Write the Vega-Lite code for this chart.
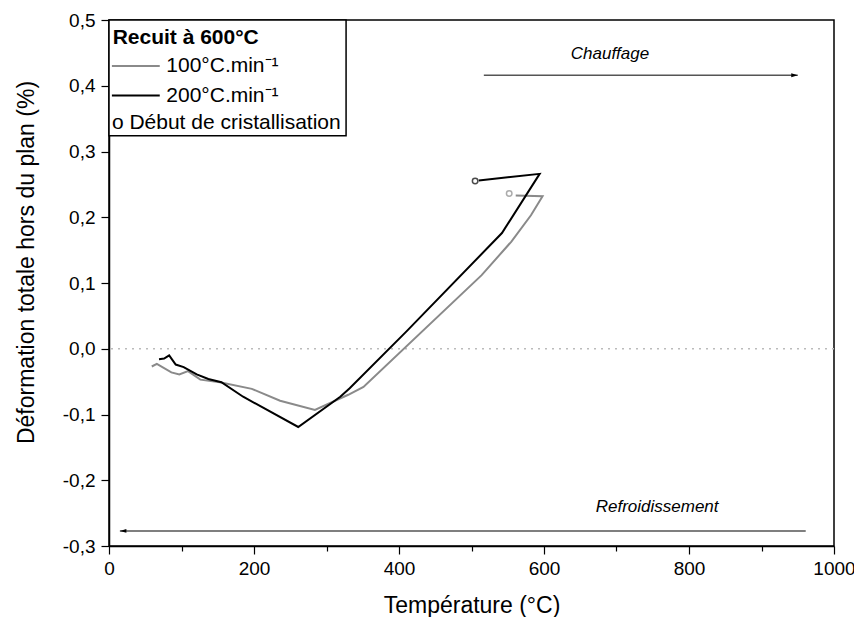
{
  "$schema": "https://vega.github.io/schema/vega-lite/v6.json",
  "width": 725,
  "height": 526,
  "autosize": "none",
  "padding": {"left": 109, "top": 20, "right": 20, "bottom": 71},
  "config": {
    "font": "Liberation Sans",
    "view": {"stroke": "#000000", "strokeWidth": 1.5},
    "axis": {"grid": false, "labelFlush": false, "labelOverlap": false, "domainColor": "#000000", "domainWidth": 1.5, "tickColor": "#000000", "tickWidth": 1.2, "labelColor": "#000000", "titleColor": "#000000", "labelFontSize": 19, "titleFontSize": 23, "titleFontWeight": "normal", "labelFont": "Liberation Sans", "titleFont": "Liberation Sans"}
  },
  "datasets": {
    "curves": [
      {"s": "100", "i": 1, "T": 59, "d": -0.027},
      {"s": "100", "i": 2, "T": 66, "d": -0.023},
      {"s": "100", "i": 3, "T": 86, "d": -0.036},
      {"s": "100", "i": 4, "T": 97, "d": -0.039},
      {"s": "100", "i": 5, "T": 109, "d": -0.034},
      {"s": "100", "i": 6, "T": 126, "d": -0.047},
      {"s": "100", "i": 7, "T": 153, "d": -0.051},
      {"s": "100", "i": 8, "T": 197, "d": -0.061},
      {"s": "100", "i": 9, "T": 236, "d": -0.079},
      {"s": "100", "i": 10, "T": 284, "d": -0.093},
      {"s": "100", "i": 11, "T": 330, "d": -0.070},
      {"s": "100", "i": 12, "T": 351, "d": -0.058},
      {"s": "100", "i": 13, "T": 514, "d": 0.112},
      {"s": "100", "i": 14, "T": 555, "d": 0.163},
      {"s": "100", "i": 15, "T": 582, "d": 0.203},
      {"s": "100", "i": 16, "T": 598, "d": 0.232},
      {"s": "100", "i": 17, "T": 561, "d": 0.233},
      {"s": "200", "i": 1, "T": 69, "d": -0.016},
      {"s": "200", "i": 2, "T": 76, "d": -0.015},
      {"s": "200", "i": 3, "T": 83, "d": -0.010},
      {"s": "200", "i": 4, "T": 92, "d": -0.024},
      {"s": "200", "i": 5, "T": 103, "d": -0.028},
      {"s": "200", "i": 6, "T": 121, "d": -0.039},
      {"s": "200", "i": 7, "T": 137, "d": -0.046},
      {"s": "200", "i": 8, "T": 155, "d": -0.051},
      {"s": "200", "i": 9, "T": 185, "d": -0.073},
      {"s": "200", "i": 10, "T": 261, "d": -0.119},
      {"s": "200", "i": 11, "T": 319, "d": -0.073},
      {"s": "200", "i": 12, "T": 332, "d": -0.060},
      {"s": "200", "i": 13, "T": 410, "d": 0.026},
      {"s": "200", "i": 14, "T": 542, "d": 0.176},
      {"s": "200", "i": 15, "T": 594, "d": 0.266},
      {"s": "200", "i": 16, "T": 510, "d": 0.256}
    ],
    "onset": [
      {"s": "100", "T": 552, "d": 0.236},
      {"s": "200", "T": 505, "d": 0.255}
    ],
    "arrows": [
      {"label": "Chauffage", "x1": 517, "x2": 950, "y": 0.416, "tip": 950, "shape": "M -1 -0.3 L 0 0 L -1 0.3 Z", "tx": 691, "ty": 0.449},
      {"label": "Refroidissement", "x1": 15, "x2": 961, "y": -0.277, "tip": 15, "shape": "M 1 -0.3 L 0 0 L 1 0.3 Z", "tx": 756, "ty": -0.240}
    ],
    "legendLines": [
      {"s": "100", "x1": 4, "x2": 70, "y": 0.430},
      {"s": "200", "x1": 4, "x2": 70, "y": 0.385}
    ],
    "legendTitle": [
      {"t": "Recuit à 600°C", "x": 5, "y": 0.472}
    ],
    "legendTexts": [
      {"t": "100°C.min⁻¹", "x": 79, "y": 0.430},
      {"t": "200°C.min⁻¹", "x": 79, "y": 0.385},
      {"t": "o Début de cristallisation", "x": 4, "y": 0.344}
    ],
    "legendBox": [{"x1": 0, "x2": 327, "y1": 0.5, "y2": 0.324}],
    "zero": [{"y": 0}]
  },
  "layer": [
    {
      "data": {"name": "zero"},
      "mark": {"type": "rule", "color": "#bbbbbb", "strokeDash": [2, 5], "strokeWidth": 1.5},
      "encoding": {
        "y": {"field": "y", "type": "quantitative", "scale": {"domain": [-0.3, 0.5], "nice": false, "zero": false},
          "axis": {
            "title": "Déformation totale hors du plan (%)",
            "values": [-0.3, -0.25, -0.2, -0.15, -0.1, -0.05, 0, 0.05, 0.1, 0.15, 0.2, 0.25, 0.3, 0.35, 0.4, 0.45, 0.5],
            "labelExpr": "abs(datum.value*10 - round(datum.value*10)) < 0.001 ? replace(replace(format(datum.value, '.1f'), '.', ','), '−', '-') : ''",
            "tickSize": {"condition": {"test": "abs(datum.value*10 - round(datum.value*10)) < 0.001", "value": 8}, "value": 5},
            "labelPadding": 6,
            "titleX": -76,
            "titleY": 242,
            "titleBaseline": "alphabetic"
          }
        }
      }
    },
    {
      "data": {"name": "curves"},
      "mark": {"type": "line", "strokeWidth": 2},
      "encoding": {
        "x": {"field": "T", "type": "quantitative", "scale": {"domain": [0, 1000], "nice": false},
          "axis": {
            "title": "Température (°C)",
            "values": [0, 100, 200, 300, 400, 500, 600, 700, 800, 900, 1000],
            "labelExpr": "datum.value % 200 == 0 ? datum.value : ''",
            "tickSize": {"condition": {"test": "datum.value % 200 == 0", "value": 8}, "value": 5},
            "labelPadding": 5,
            "titleY": 66,
            "titleBaseline": "alphabetic"
          }
        },
        "y": {"field": "d", "type": "quantitative"},
        "color": {"field": "s", "type": "nominal", "scale": {"domain": ["100", "200"], "range": ["#8a8a8a", "#000000"]}, "legend": null},
        "order": {"field": "i", "type": "quantitative"}
      }
    },
    {
      "data": {"name": "onset"},
      "mark": {"type": "point", "filled": false, "size": 30, "strokeWidth": 1.5},
      "encoding": {
        "x": {"field": "T", "type": "quantitative"},
        "y": {"field": "d", "type": "quantitative"},
        "color": {"field": "s", "type": "nominal", "legend": null}
      }
    },
    {
      "data": {"name": "arrows"},
      "mark": {"type": "rule", "color": "#555555", "strokeWidth": 1.5},
      "encoding": {
        "x": {"field": "x1", "type": "quantitative"},
        "x2": {"field": "x2"},
        "y": {"field": "y", "type": "quantitative"}
      }
    },
    {
      "data": {"name": "arrows"},
      "mark": {"type": "point", "filled": true, "color": "#000000", "size": 170, "opacity": 1},
      "encoding": {
        "x": {"field": "tip", "type": "quantitative"},
        "y": {"field": "y", "type": "quantitative"},
        "shape": {"field": "shape", "type": "nominal", "scale": null}
      }
    },
    {
      "data": {"name": "arrows"},
      "mark": {"type": "text", "fontSize": 17, "fontStyle": "italic", "color": "#000000", "align": "center", "baseline": "middle"},
      "encoding": {
        "x": {"field": "tx", "type": "quantitative"},
        "y": {"field": "ty", "type": "quantitative"},
        "text": {"field": "label"}
      }
    },
    {
      "data": {"name": "legendBox"},
      "mark": {"type": "rect", "fill": "#ffffff", "stroke": "#000000", "strokeWidth": 1.5},
      "encoding": {
        "x": {"field": "x1", "type": "quantitative"},
        "x2": {"field": "x2"},
        "y": {"field": "y1", "type": "quantitative"},
        "y2": {"field": "y2"}
      }
    },
    {
      "data": {"name": "legendLines"},
      "mark": {"type": "rule", "strokeWidth": 2},
      "encoding": {
        "x": {"field": "x1", "type": "quantitative"},
        "x2": {"field": "x2"},
        "y": {"field": "y", "type": "quantitative"},
        "color": {"field": "s", "type": "nominal", "legend": null}
      }
    },
    {
      "data": {"name": "legendTitle"},
      "mark": {"type": "text", "fontSize": 21, "fontWeight": "bold", "color": "#000000", "align": "left", "baseline": "middle"},
      "encoding": {
        "x": {"field": "x", "type": "quantitative"},
        "y": {"field": "y", "type": "quantitative"},
        "text": {"field": "t"}
      }
    },
    {
      "data": {"name": "legendTexts"},
      "mark": {"type": "text", "fontSize": 21, "color": "#000000", "align": "left", "baseline": "middle"},
      "encoding": {
        "x": {"field": "x", "type": "quantitative"},
        "y": {"field": "y", "type": "quantitative"},
        "text": {"field": "t"}
      }
    }
  ]
}
